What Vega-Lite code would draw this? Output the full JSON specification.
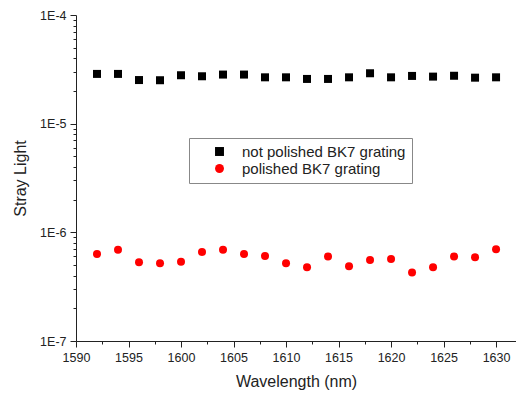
{
  "$schema": "https://vega.github.io/schema/vega-lite/v6.json",
  "width": 440,
  "height": 326,
  "autosize": {"type": "none"},
  "padding": {"left": 76, "top": 15, "right": 0, "bottom": 54},
  "background": "white",
  "config": {
    "view": {"stroke": null},
    "font": "Liberation Sans",
    "axis": {"grid": false, "domainColor": "#222", "tickColor": "#222", "labelColor": "#222", "titleColor": "#222", "labelFont": "Liberation Sans", "titleFont": "Liberation Sans", "titleFontWeight": "normal", "labelFontSize": 12.5, "titleFontSize": 16}
  },
  "data": {
    "values": [
      {"wl": 1592, "s": 2.87e-5, "g": "not polished BK7 grating"},
      {"wl": 1594, "s": 2.87e-5, "g": "not polished BK7 grating"},
      {"wl": 1596, "s": 2.52e-5, "g": "not polished BK7 grating"},
      {"wl": 1598, "s": 2.51e-5, "g": "not polished BK7 grating"},
      {"wl": 1600, "s": 2.79e-5, "g": "not polished BK7 grating"},
      {"wl": 1602, "s": 2.73e-5, "g": "not polished BK7 grating"},
      {"wl": 1604, "s": 2.83e-5, "g": "not polished BK7 grating"},
      {"wl": 1606, "s": 2.83e-5, "g": "not polished BK7 grating"},
      {"wl": 1608, "s": 2.67e-5, "g": "not polished BK7 grating"},
      {"wl": 1610, "s": 2.67e-5, "g": "not polished BK7 grating"},
      {"wl": 1612, "s": 2.58e-5, "g": "not polished BK7 grating"},
      {"wl": 1614, "s": 2.58e-5, "g": "not polished BK7 grating"},
      {"wl": 1616, "s": 2.67e-5, "g": "not polished BK7 grating"},
      {"wl": 1618, "s": 2.91e-5, "g": "not polished BK7 grating"},
      {"wl": 1620, "s": 2.67e-5, "g": "not polished BK7 grating"},
      {"wl": 1622, "s": 2.75e-5, "g": "not polished BK7 grating"},
      {"wl": 1624, "s": 2.71e-5, "g": "not polished BK7 grating"},
      {"wl": 1626, "s": 2.76e-5, "g": "not polished BK7 grating"},
      {"wl": 1628, "s": 2.65e-5, "g": "not polished BK7 grating"},
      {"wl": 1630, "s": 2.67e-5, "g": "not polished BK7 grating"},
      {"wl": 1592, "s": 6.33e-7, "g": "polished BK7 grating"},
      {"wl": 1594, "s": 6.93e-7, "g": "polished BK7 grating"},
      {"wl": 1596, "s": 5.3e-7, "g": "polished BK7 grating"},
      {"wl": 1598, "s": 5.19e-7, "g": "polished BK7 grating"},
      {"wl": 1600, "s": 5.37e-7, "g": "polished BK7 grating"},
      {"wl": 1602, "s": 6.6e-7, "g": "polished BK7 grating"},
      {"wl": 1604, "s": 6.93e-7, "g": "polished BK7 grating"},
      {"wl": 1606, "s": 6.33e-7, "g": "polished BK7 grating"},
      {"wl": 1608, "s": 6.07e-7, "g": "polished BK7 grating"},
      {"wl": 1610, "s": 5.19e-7, "g": "polished BK7 grating"},
      {"wl": 1612, "s": 4.77e-7, "g": "polished BK7 grating"},
      {"wl": 1614, "s": 5.98e-7, "g": "polished BK7 grating"},
      {"wl": 1616, "s": 4.87e-7, "g": "polished BK7 grating"},
      {"wl": 1618, "s": 5.57e-7, "g": "polished BK7 grating"},
      {"wl": 1620, "s": 5.69e-7, "g": "polished BK7 grating"},
      {"wl": 1622, "s": 4.26e-7, "g": "polished BK7 grating"},
      {"wl": 1624, "s": 4.77e-7, "g": "polished BK7 grating"},
      {"wl": 1626, "s": 5.98e-7, "g": "polished BK7 grating"},
      {"wl": 1628, "s": 5.89e-7, "g": "polished BK7 grating"},
      {"wl": 1630, "s": 6.98e-7, "g": "polished BK7 grating"}
    ]
  },
  "mark": {"type": "point", "filled": true, "size": 64, "opacity": 1},
  "encoding": {
    "x": {
      "field": "wl", "type": "quantitative",
      "scale": {"domain": [1590, 1631.9], "nice": false, "zero": false},
      "axis": {
        "title": "Wavelength (nm)",
        "values": [1590, 1592.5, 1595, 1597.5, 1600, 1602.5, 1605, 1607.5, 1610, 1612.5, 1615, 1617.5, 1620, 1622.5, 1625, 1627.5, 1630],
        "labelExpr": "datum.value % 5 == 0 ? format(datum.value, 'd') : ''",
        "tickSize": {"condition": {"test": "datum.value % 5 == 0", "value": 6}, "value": 3},
        "labelPadding": 4,
        "titlePadding": 10,
        "labelFlush": false,
        "labelOverlap": false
      }
    },
    "y": {
      "field": "s", "type": "quantitative",
      "scale": {"type": "log", "domain": [1e-7, 1e-4], "nice": false},
      "axis": {
        "title": "Stray Light",
        "values": [1e-7, 2e-7, 3e-7, 4e-7, 5e-7, 6e-7, 7e-7, 8e-7, 9e-7, 1e-6, 2e-6, 3e-6, 4e-6, 5e-6, 6e-6, 7e-6, 8e-6, 9e-6, 1e-5, 2e-5, 3e-5, 4e-5, 5e-5, 6e-5, 7e-5, 8e-5, 9e-5, 1e-4],
        "labelExpr": "abs(log(datum.value)/LN10 - round(log(datum.value)/LN10)) < 0.01 ? '1E' + round(log(datum.value)/LN10) : ''",
        "tickSize": {"condition": {"test": "abs(log(datum.value)/LN10 - round(log(datum.value)/LN10)) < 0.01", "value": 6}, "value": 3},
        "labelPadding": 4,
        "titlePadding": 11,
        "labelFlush": false,
        "labelOverlap": false
      }
    },
    "color": {
      "field": "g", "type": "nominal",
      "scale": {"domain": ["not polished BK7 grating", "polished BK7 grating"], "range": ["#000000", "#ff0000"]},
      "legend": {
        "title": null,
        "orient": "none",
        "legendX": 113,
        "legendY": 123,
        "strokeColor": "#888",
        "padding": 6,
        "symbolOffset": 17,
        "symbolSize": 80,
        "labelFontSize": 15,
        "labelFont": "Liberation Sans",
        "labelColor": "#222",
        "labelOffset": 15,
        "rowPadding": 1,
        "labelLimit": 300
      }
    },
    "shape": {
      "field": "g", "type": "nominal",
      "scale": {"domain": ["not polished BK7 grating", "polished BK7 grating"], "range": ["square", "circle"]},
      "legend": {
        "title": null,
        "orient": "none",
        "legendX": 113,
        "legendY": 123
      }
    }
  }
}
